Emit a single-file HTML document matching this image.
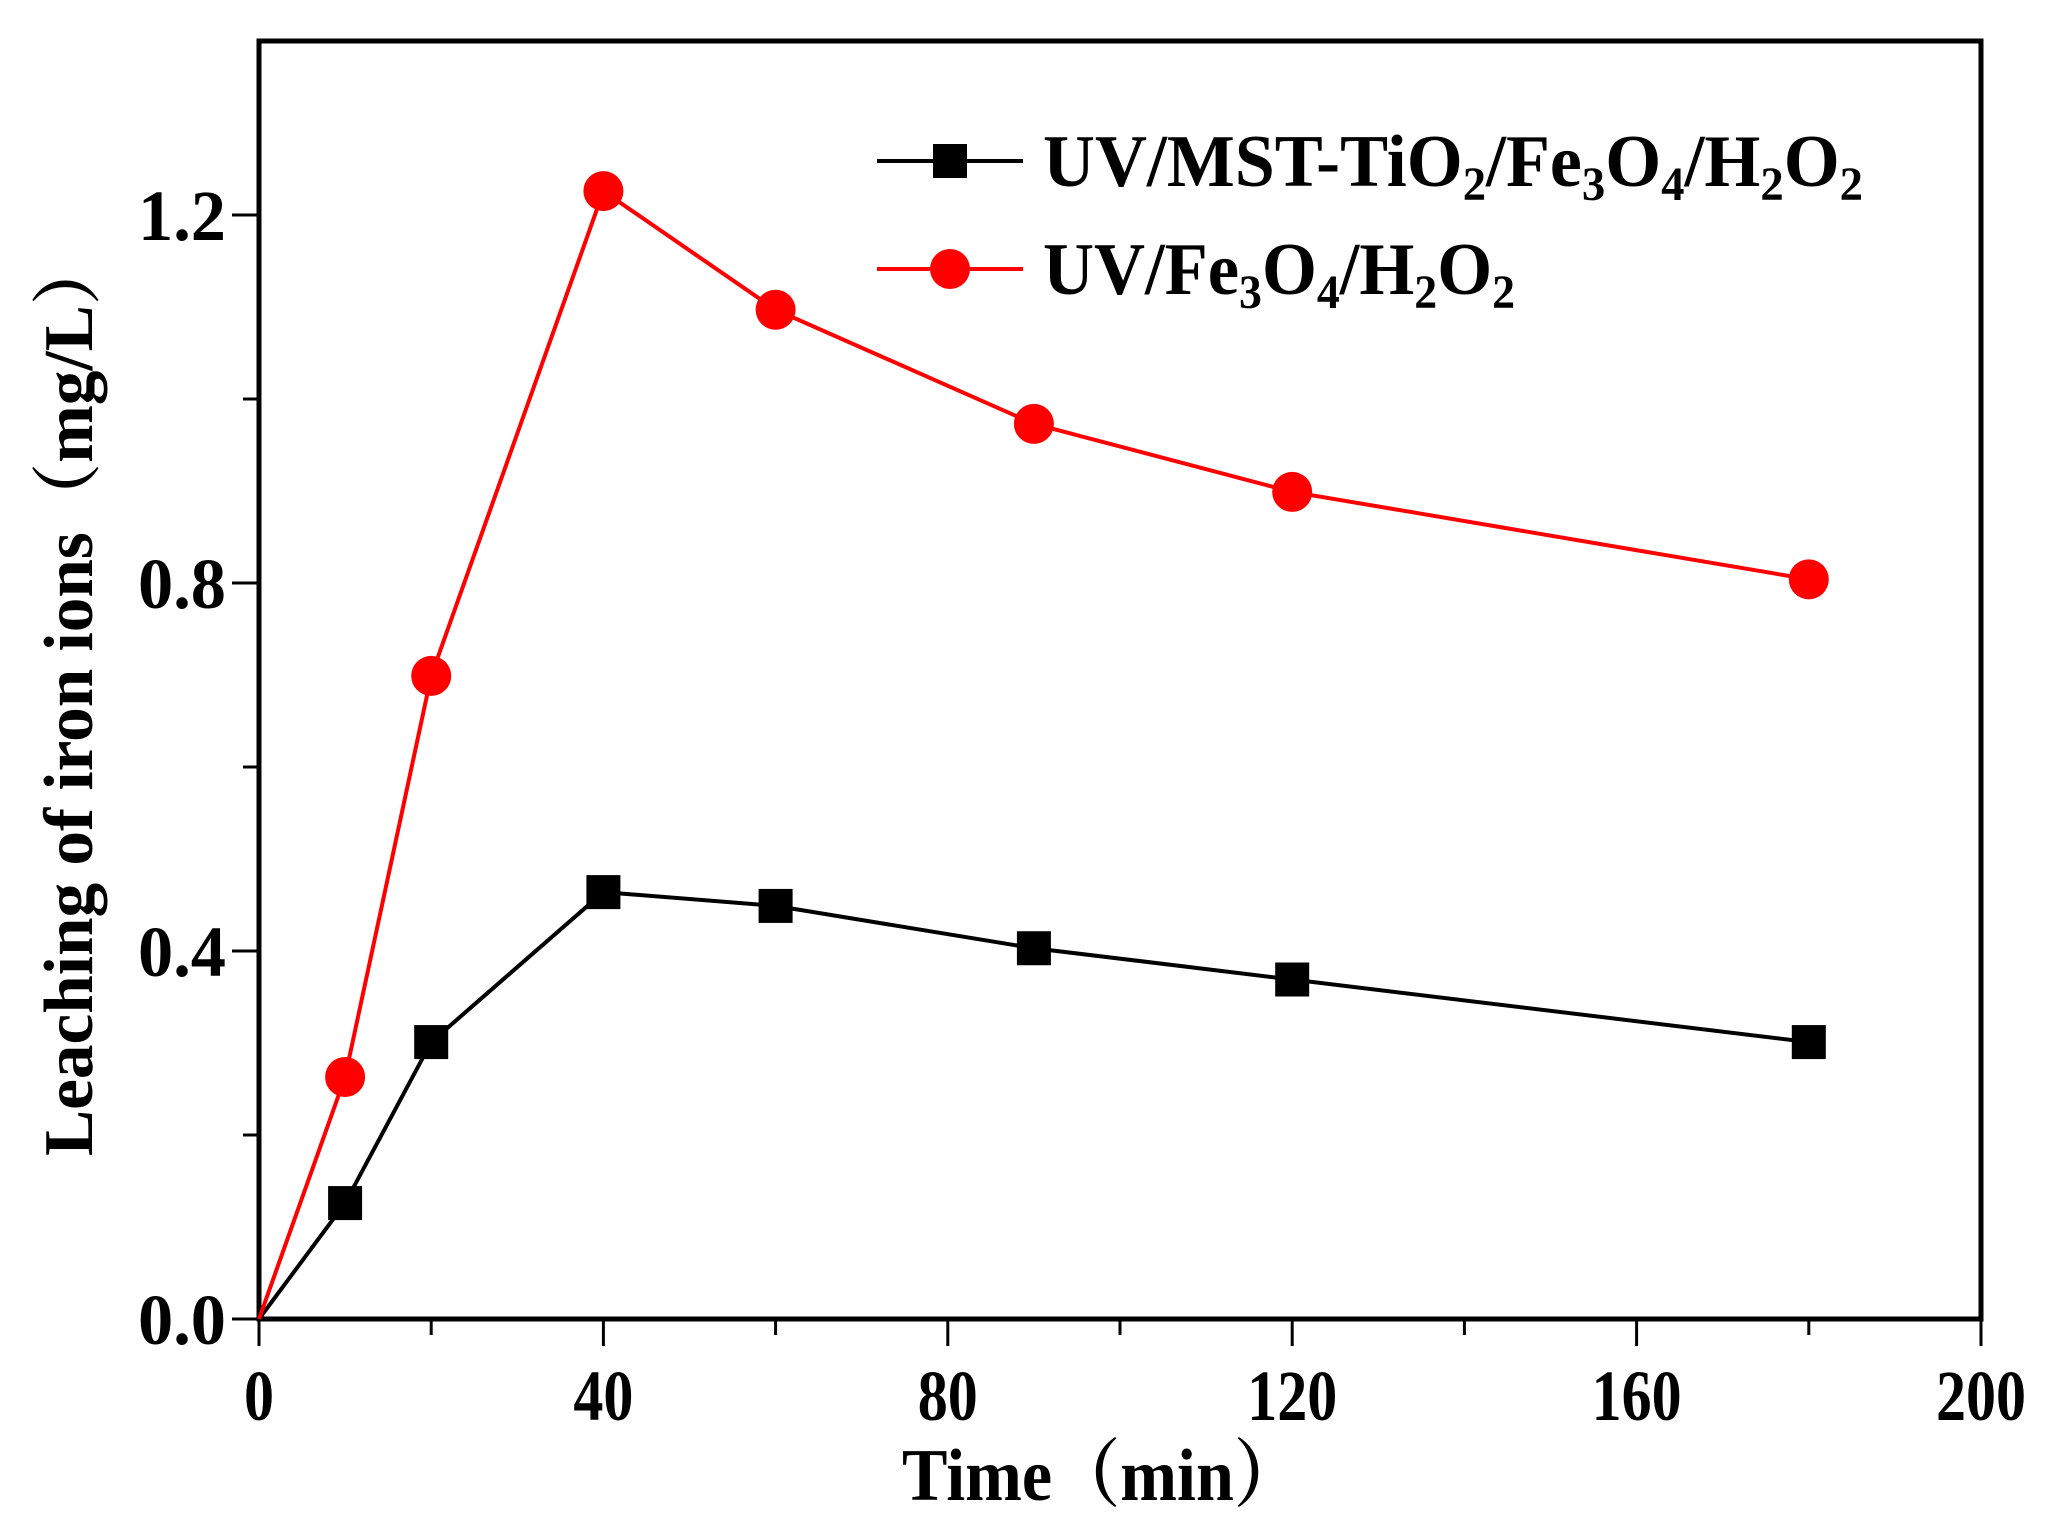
<!DOCTYPE html>
<html><head><meta charset="utf-8"><style>
html,body{margin:0;padding:0;background:#fff}
svg{display:block}
text{font-family:"Liberation Serif","Noto Serif CJK SC",serif;font-weight:bold;fill:#000}
</style></head><body>
<svg id="chart" width="2057" height="1539" viewBox="0 0 2057 1539" xmlns="http://www.w3.org/2000/svg">
<g id="axes"></g>
<g id="series"></g>
<g id="legend"></g>
<text x="1102" y="1500" font-size="74" text-anchor="middle" textLength="400" lengthAdjust="spacingAndGlyphs">Time（min）</text>
<text transform="translate(92,696) rotate(-90)" font-size="70" text-anchor="middle" textLength="920" lengthAdjust="spacingAndGlyphs">Leaching of iron ions（mg/L）</text>
</svg>
<script>
const times = [0, 10, 20, 40, 60, 90, 120, 180];
const blackSeries = [0, 0.126, 0.301, 0.464, 0.449, 0.403, 0.369, 0.301];
const redSeries = [0, 0.263, 0.699, 1.226, 1.097, 0.973, 0.899, 0.804];
const xTickLabels = ["0", "40", "80", "120", "160", "200"];
const xTickValues = [0, 40, 80, 120, 160, 200];
const yTickLabels = ["0.0", "0.4", "0.8", "1.2"];
const yTickValues = [0, 0.4, 0.8, 1.2];

const NS = "http://www.w3.org/2000/svg";
const X0 = 259, X1 = 1981, Y0 = 1319, YT = 41;
const sx = v => X0 + v / 200 * (X1 - X0);
const sy = v => Y0 - v / 0.4 * 368;
function mk(tag, attrs, parent) {
  const e = document.createElementNS(NS, tag);
  for (const k in attrs) e.setAttribute(k, attrs[k]);
  parent.appendChild(e);
  return e;
}
const axes = document.getElementById('axes');
const frame = mk('rect', {x: X0, y: YT, width: X1 - X0, height: Y0 - YT, fill: 'none', stroke: '#000', 'stroke-width': 5}, axes);


for (let v = 0; v <= 200; v += 20) {
  const major = v % 40 === 0;
  const t = mk('line', {x1: sx(v), x2: sx(v), y1: Y0, y2: Y0 + (major ? 27 : 16), stroke: '#000', 'stroke-width': 3}, axes);
  
  
}
xTickValues.forEach((v, i) => {
  const lbl = xTickLabels[i];
  const t = mk('text', {x: sx(v), y: 1420, 'font-size': 72, 'text-anchor': 'middle', textLength: lbl.length * 30, lengthAdjust: 'spacingAndGlyphs'}, axes);
  t.textContent = lbl;
  
  
});
for (let v = 0; v <= 1.2001; v += 0.2) {
  const major = Math.round(v * 10) % 4 === 0;
  const t = mk('line', {x1: X0 - (major ? 27 : 16), x2: X0, y1: sy(v), y2: sy(v), stroke: '#000', 'stroke-width': 3}, axes);
  
  
}
yTickValues.forEach((v, i) => {
  const t = mk('text', {x: 226, y: sy(v) + 25, 'font-size': 72, 'text-anchor': 'end', textLength: 88, lengthAdjust: 'spacingAndGlyphs'}, axes);
  t.textContent = yTickLabels[i];
  
  
});
const ser = document.getElementById('series');
function drawSeries(vals, color, shape, name) {
  const g = mk('g', {}, ser);
  
  
  const pl = mk('polyline', {points: times.map((t, i) => sx(t) + ',' + sy(vals[i])).join(' '), fill: 'none', stroke: color, 'stroke-width': 4}, g);
  
  
  times.forEach((t, i) => {
    if (t === 0) return;
    let m;
    if (shape === 'square') m = mk('rect', {x: sx(t) - 17, y: sy(vals[i]) - 17, width: 34, height: 34, fill: color}, g);
    else m = mk('circle', {cx: sx(t), cy: sy(vals[i]), r: 20, fill: color}, g);
    
    
  });
}
drawSeries(blackSeries, '#000', 'square', 'series-mst-tio2');
drawSeries(redSeries, '#ff0000', 'circle', 'series-fe3o4');

const lg = document.getElementById('legend');
function legendEntry(y, color, shape, html, w, name) {
  const g = mk('g', {}, lg);
  
  
  mk('line', {x1: 877, x2: 1023, y1: y, y2: y, stroke: color, 'stroke-width': 4}, g);
  if (shape === 'square') mk('rect', {x: 933, y: y - 17, width: 34, height: 34, fill: color}, g);
  else mk('circle', {cx: 950, cy: y, r: 20, fill: color}, g);
  const t = mk('text', {x: 1043, y: y + 25, 'font-size': 74, textLength: w, lengthAdjust: 'spacingAndGlyphs'}, g);
  t.innerHTML = html;
  
  
}
const sub = d => '<tspan dy="14" font-size="48">' + d + '</tspan><tspan dy="-14">';
legendEntry(161, '#000', 'square', 'UV/MST-TiO' + sub('2') + '/Fe' + sub('3') + 'O' + sub('4') + '/H' + sub('2') + 'O' + sub('2') + '</tspan></tspan></tspan></tspan></tspan>', 820, 'legend-entry-mst-tio2');
legendEntry(269, '#ff0000', 'circle', 'UV/Fe' + sub('3') + 'O' + sub('4') + '/H' + sub('2') + 'O' + sub('2') + '</tspan></tspan></tspan></tspan>', 472, 'legend-entry-fe3o4');
</script>
</body></html>
